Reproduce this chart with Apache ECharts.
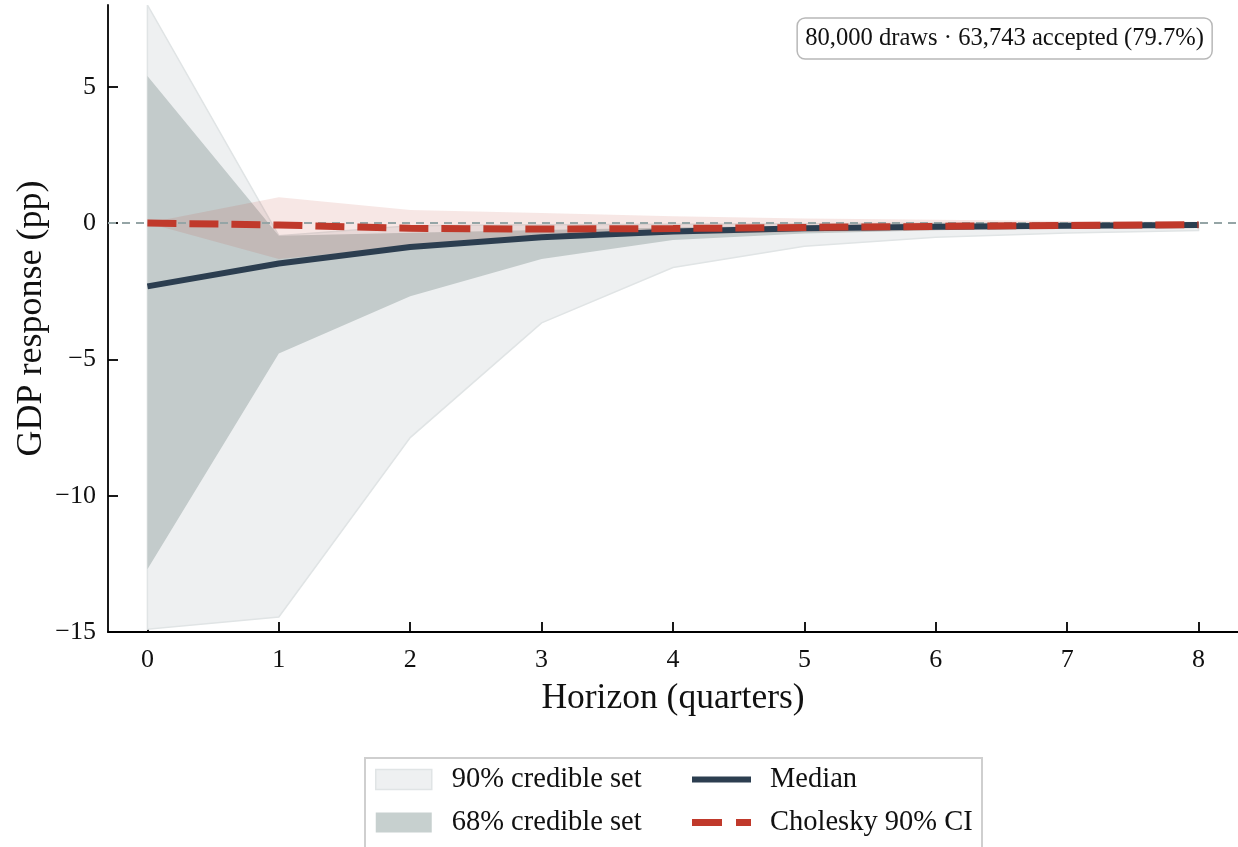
<!DOCTYPE html>
<html>
<head>
<meta charset="utf-8">
<script src="https://cdn.jsdelivr.net/npm/echarts@6/dist/echarts.min.js"></script>
<style>html,body{margin:0;padding:0;background:#fff}#c{width:1238px;height:847px}</style>
</head>
<body>
<div id="c"></div>
<script>
// ---- data ----
const horizon   = [0, 1, 2, 3, 4, 5, 6, 7, 8];
const median    = [-2.32, -1.48, -0.88, -0.52, -0.31, -0.19, -0.13, -0.1, -0.07];
const band90Lo  = [-14.9, -14.45, -7.87, -3.66, -1.63, -0.85, -0.52, -0.36, -0.27];
const band90Hi  = [8.0, -0.46, -0.1, -0.06, -0.04, -0.02, -0.01, 0.0, 0.01];
const band68Lo  = [-12.7, -4.78, -2.68, -1.32, -0.62, -0.38, -0.26, -0.18, -0.12];
const band68Hi  = [5.4, -0.46, -0.35, -0.25, -0.16, -0.1, -0.07, -0.05, -0.03];
const cholesky  = [0, -0.07, -0.19, -0.22, -0.2, -0.16, -0.12, -0.09, -0.06];
const cholLo    = [0, -1.32, -0.85, -0.55, -0.42, -0.33, -0.26, -0.2, -0.15];
const cholHi    = [0, 0.95, 0.48, 0.37, 0.25, 0.17, 0.12, 0.08, 0.05];
const yTicks    = [-15, -10, -5, 0, 5];
const annotation = '80,000 draws · 63,743 accepted (79.7%)';

const FONT = "'Liberation Serif', 'DejaVu Serif', serif";

function band(name, lo, hi, fill, stroke, z) {
  return {
    type: 'custom', name: name, z: z, clip: true, silent: true,
    itemStyle: { color: fill },
    data: horizon.map((h, i) => [h, lo[i], hi[i]]),
    encode: { x: 0, y: [1, 2] },
    renderItem: function (params, api) {
      if (params.dataIndex !== 0) return null;
      const pts = [];
      for (let i = 0; i < horizon.length; i++) pts.push(api.coord([horizon[i], hi[i]]));
      for (let i = horizon.length - 1; i >= 0; i--) pts.push(api.coord([horizon[i], lo[i]]));
      return { type: 'polygon', shape: { points: pts },
        style: { fill: fill, stroke: stroke || null, lineWidth: stroke ? 1.5 : 0 } };
    }
  };
}

const chart = echarts.init(document.getElementById('c'), null, { renderer: 'canvas' });
chart.setOption({
  animation: false,
  backgroundColor: '#fff',
  textStyle: { fontFamily: FONT },
  title: {
    text: annotation, right: 26, top: 18,
    padding: [8, 8, 8, 8],
    borderWidth: 1.5, borderColor: '#b8b8b8', borderRadius: 8,
    backgroundColor: '#fff',
    textStyle: { fontFamily: FONT, fontSize: 24.6, fontWeight: 'normal', color: '#111' }
  },
  grid: { left: 108, right: 0, top: 5, bottom: 215 },
  xAxis: {
    type: 'value', min: -0.3, max: 8.3,
    name: 'Horizon (quarters)', nameLocation: 'middle', nameGap: 49,
    nameTextStyle: { fontFamily: FONT, fontSize: 35.5, color: '#111' },
    axisLine: { onZero: false, lineStyle: { color: '#000', width: 1.8 } },
    axisTick: { inside: true, length: 10, lineStyle: { color: '#000', width: 1.8 }, customValues: horizon },
    axisLabel: { customValues: horizon, fontSize: 26, color: '#111', margin: 15, fontFamily: FONT },
    splitLine: { show: false }
  },
  yAxis: {
    type: 'value', min: -15, max: 8,
    name: 'GDP response (pp)', nameLocation: 'middle', nameGap: 58, nameRotate: 90,
    nameMoveOverlap: false,
    nameTextStyle: { fontFamily: FONT, fontSize: 36, color: '#111' },
    axisLine: { show: true, onZero: false, lineStyle: { color: '#000', width: 1.8 } },
    axisTick: { show: true, inside: true, length: 10, lineStyle: { color: '#000', width: 1.8 }, customValues: yTicks },
    axisLabel: { customValues: yTicks, fontSize: 26, color: '#111', margin: 12, fontFamily: FONT,
      formatter: v => String(v).replace('-', '\u2212') },
    splitLine: { show: false }
  },
  legend: [
    {
      left: 375, top: 765, orient: 'vertical', itemGap: 14, padding: 0,
      itemWidth: 56, itemHeight: 20,
      textStyle: { fontFamily: FONT, fontSize: 28.5, color: '#111', padding: [0, 0, 0, 15] },
      data: [
        { name: '90% credible set', icon: 'rect', itemStyle: { color: '#eef0f1', borderColor: '#e0e4e5', borderWidth: 1.5 } },
        { name: '68% credible set', icon: 'rect', itemStyle: { color: '#c7d0cf', borderWidth: 0 } }
      ]
    },
    {
      left: 692, top: 765, orient: 'vertical', itemGap: 14, padding: 0,
      itemWidth: 59, itemHeight: 7,
      textStyle: { fontFamily: FONT, fontSize: 28.5, color: '#111', padding: [0, 0, 0, 14] },
      data: [
        { name: 'Median', icon: 'path://M0,0H59V6H0Z',
          itemStyle: { color: '#2c3e50', borderWidth: 0 } },
        { name: 'Cholesky 90% CI', icon: 'path://M0,0H30V7H0Z M44,0H59V7H44Z',
          itemStyle: { color: '#c0392b', borderWidth: 0 } }
      ]
    }
  ],
  graphic: [{
    type: 'rect', left: 364, top: 757, z: -10,
    shape: { width: 617, height: 120 },
    style: { fill: '#fff', stroke: '#cfcfcf', lineWidth: 2 }
  }],
  series: [
    band('90% credible set', band90Lo, band90Hi, '#eef0f1', '#e0e4e5', 1),
    band('68% credible set', band68Lo, band68Hi, '#c3cbcb', null, 2),
    band('Cholesky band', cholLo, cholHi, 'rgba(192,57,43,0.12)', null, 3),
    {
      type: 'line', name: 'Median', z: 6, symbol: 'none', silent: true,
      data: horizon.map((h, i) => [h, median[i]]),
      lineStyle: { color: '#2c3e50', width: 6, cap: 'butt' },
      itemStyle: { color: '#2c3e50' },
      markLine: {
        silent: true, symbol: 'none', z: 4, label: { show: false },
        lineStyle: { color: '#95a5a6', type: [8, 6], width: 1.8 },
        data: [{ yAxis: 0 }]
      }
    },
    {
      type: 'line', name: 'Cholesky 90% CI', z: 7, symbol: 'none', silent: true,
      data: horizon.map((h, i) => [h, cholesky[i]]),
      lineStyle: { color: '#c0392b', width: 7, type: [29, 13], cap: 'butt' },
      itemStyle: { color: '#c0392b' }
    }
  ]
});
</script>
</body>
</html>
